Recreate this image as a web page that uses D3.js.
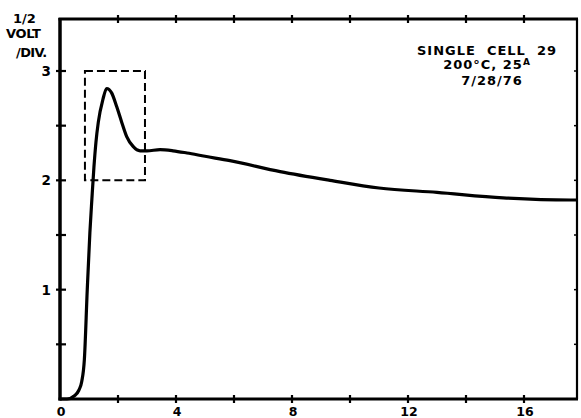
<!DOCTYPE html>
<html>
<head>
<meta charset="utf-8">
<script src="https://cdn.jsdelivr.net/npm/d3@7"></script>
<style>
  body { margin: 0; background: #fff; }
  svg { display: block; }
  text { font-family: "DejaVu Sans", sans-serif; font-weight: bold; fill: #000; }
</style>
</head>
<body>
<script>
// ---- data ----
const timeVals = [0, 0.24, 0.5, 0.65, 0.75, 0.84, 0.94, 1.03, 1.10, 1.17, 1.24, 1.32, 1.48, 1.61, 1.78, 1.96, 2.13, 2.30, 2.52, 2.76, 3.0, 3.45, 3.9, 4.38, 5.0, 5.86, 7.59, 9.31, 11.0, 13.0, 15.28, 17.6, 17.83];
const voltVals = [0, 0, 0.03, 0.08, 0.16, 0.36, 1.0, 1.52, 1.83, 2.12, 2.35, 2.53, 2.74, 2.84, 2.80, 2.67, 2.53, 2.40, 2.31, 2.27, 2.27, 2.28, 2.27, 2.25, 2.22, 2.18, 2.08, 2.0, 1.93, 1.89, 1.84, 1.82, 1.82];
const xTickLabels = [0, 4, 8, 12, 16];
const xMinorTicks = [2, 4, 6, 8, 10, 12, 14, 16];
const yTickLabels = [1, 2, 3];
const yMinorTicks = [0.5, 1, 1.5, 2, 2.5, 3];
const boxX = [0.86, 2.93];
const boxY = [2, 3];
const yAxisTitle = ["1/2", "VOLT", "/DIV."];
const noteLines = ["SINGLE  CELL  29", "200°C, 25", "7/28/76"];

const W = 581, H = 418;
const mLeft = 60, mRight = 577, mTop = 19, mBottom = 399;

const x = d3.scaleLinear().domain([0, 16]).range([mLeft, mLeft + 16 * 29]);
const y = d3.scaleLinear().domain([0, 3]).range([mBottom, 71]);

const svg = d3.select("body").append("svg").attr("width", W).attr("height", H);

// frame
svg.append("line").attr("x1", mLeft).attr("x2", mLeft).attr("y1", mTop - 1).attr("y2", mBottom + 1.5)
  .attr("stroke", "#000").attr("stroke-width", 3.5);
svg.append("line").attr("x1", mLeft - 1.5).attr("x2", mRight + 1).attr("y1", mBottom).attr("y2", mBottom)
  .attr("stroke", "#000").attr("stroke-width", 3);
svg.append("line").attr("x1", mLeft - 1.5).attr("x2", mRight + 1).attr("y1", mTop).attr("y2", mTop)
  .attr("stroke", "#000").attr("stroke-width", 3);
svg.append("line").attr("x1", mRight).attr("x2", mRight).attr("y1", mTop).attr("y2", mBottom)
  .attr("stroke", "#000").attr("stroke-width", 2.2);

// left ticks (crossing)
svg.selectAll(".ly").data(yMinorTicks).join("line")
  .attr("x1", mLeft - 4).attr("x2", mLeft + 6)
  .attr("y1", d => y(d)).attr("y2", d => y(d))
  .attr("stroke", "#000").attr("stroke-width", 2.2);
// right ticks (inward)
svg.selectAll(".ry").data(yMinorTicks).join("line")
  .attr("x1", mRight - 3).attr("x2", mRight)
  .attr("y1", d => y(d)).attr("y2", d => y(d))
  .attr("stroke", "#000").attr("stroke-width", 1.5);
// bottom ticks
svg.selectAll(".bx").data(xMinorTicks).join("line")
  .attr("x1", d => x(d)).attr("x2", d => x(d))
  .attr("y1", mBottom - 4).attr("y2", mBottom + 4)
  .attr("stroke", "#000").attr("stroke-width", 2.2);
// top ticks
svg.selectAll(".tx").data(xMinorTicks).join("line")
  .attr("x1", d => x(d)).attr("x2", d => x(d))
  .attr("y1", mTop - 4).attr("y2", mTop + 4)
  .attr("stroke", "#000").attr("stroke-width", 2.2);

// tick labels
svg.selectAll(".xl").data(xTickLabels).join("text")
  .attr("x", d => x(d) + 1).attr("y", 415.5)
  .attr("text-anchor", "middle").attr("font-size", 12.5).text(d => d);
svg.selectAll(".yl").data(yTickLabels).join("text")
  .attr("x", 51).attr("y", d => y(d) + 5)
  .attr("text-anchor", "end").attr("font-size", 13.5).text(d => d);

// y axis title
svg.selectAll(".yt").data(yAxisTitle).join("text")
  .attr("x", (d, i) => [13, 6, 16][i]).attr("y", (d, i) => [23, 38, 57][i])
  .attr("font-size", 13).attr("letter-spacing", (d, i) => [0, -0.3, -0.6][i]).text(d => d);

// note
const nx = 487;
svg.append("text").attr("x", nx).attr("y", 55).attr("text-anchor", "middle")
  .attr("font-size", 13).attr("letter-spacing", 1).style("white-space", "pre").text(noteLines[0]);
const t2 = svg.append("text").attr("x", nx).attr("y", 68.5).attr("text-anchor", "middle")
  .attr("font-size", 13).attr("letter-spacing", 1);
t2.append("tspan").text(noteLines[1]);
t2.append("tspan").attr("font-size", 9).attr("dy", -4).text("A");
svg.append("text").attr("x", nx + 5).attr("y", 85).attr("text-anchor", "middle")
  .attr("font-size", 13).attr("letter-spacing", 1).text(noteLines[2]);

// dashed box
svg.append("rect")
  .attr("x", x(boxX[0])).attr("y", y(boxY[1]))
  .attr("width", x(boxX[1]) - x(boxX[0])).attr("height", y(boxY[0]) - y(boxY[1]))
  .attr("fill", "none").attr("stroke", "#000").attr("stroke-width", 2)
  .attr("stroke-dasharray", "8,4");

// curve
const pts = timeVals.map((t, i) => [t, voltVals[i]]);
svg.append("path").datum(pts)
  .attr("d", d3.line().x(d => x(d[0])).y(d => y(d[1])).curve(d3.curveMonotoneX))
  .attr("fill", "none").attr("stroke", "#000").attr("stroke-width", 3.2)
  .attr("stroke-linejoin", "round");
</script>
</body>
</html>
